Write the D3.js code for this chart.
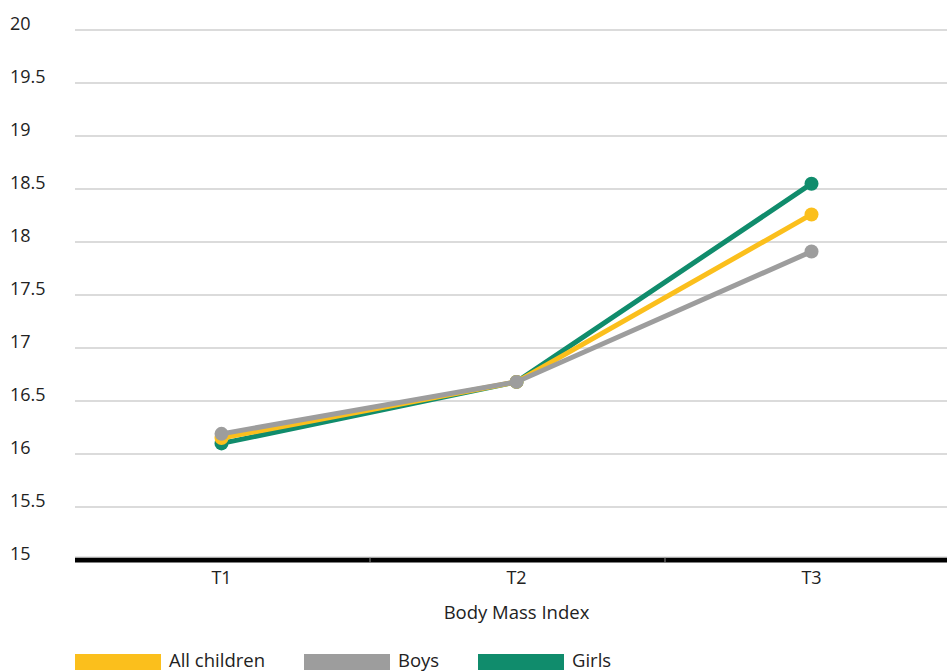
<!DOCTYPE html>
<html><head><meta charset="utf-8">
<script src="https://cdn.jsdelivr.net/npm/d3@7"></script>
<style>body{margin:0;background:#fff;}svg{display:block;font-family:"Open Sans",sans-serif;}</style>
</head><body>
<svg id="c" width="947" height="671"></svg>
<script>
const categories = ["T1","T2","T3"];
const seriesNames = ["All children","Boys","Girls"];
const allChildren = [16.15, 16.68, 18.26];
const boys = [16.19, 16.68, 17.91];
const girls = [16.10, 16.68, 18.55];
const yTicks = [15,15.5,16,16.5,17,17.5,18,18.5,19,19.5,20];
const colors = ["#FBBF1C","#9D9D9D","#108C6C"];
const xTitle = "Body Mass Index";

const svg = d3.select("#c");
const x = d3.scaleBand().domain(categories).range([75,960]);
const y = d3.scaleLinear().domain([15,20]).range([560,30]);

svg.append("g").selectAll("line").data(yTicks.filter(t=>t>15)).join("line")
  .attr("x1",75).attr("x2",947).attr("y1",d=>y(d)).attr("y2",d=>y(d))
  .attr("stroke","#B8B8B8").attr("stroke-width",1.2);
svg.append("g").selectAll("text").data(yTicks).join("text")
  .attr("x",10).attr("y",d=>y(d)-5).attr("dominant-baseline","middle")
  .attr("font-size",18).attr("fill","#222").text(d=>d);

svg.append("line").attr("x1",75).attr("x2",947).attr("y1",y(15)).attr("y2",y(15))
  .attr("stroke","#000").attr("stroke-width",5);
svg.append("line").attr("x1",75).attr("x2",947).attr("y1",y(15)-3).attr("y2",y(15)-3)
  .attr("stroke","#ccc").attr("stroke-width",1);
svg.append("g").selectAll("line").data(categories.slice(1)).join("line")
  .attr("x1",d=>x(d)).attr("x2",d=>x(d)).attr("y1",y(15)-2.5).attr("y2",y(15)+2.5)
  .attr("stroke","#888").attr("stroke-width",1);
svg.append("g").selectAll("text").data(categories).join("text")
  .attr("x",d=>x(d)+x.bandwidth()/2-1).attr("y",579).attr("dominant-baseline","middle")
  .attr("text-anchor","middle").attr("font-size",18).attr("fill","#222").text(d=>d);
svg.append("text").attr("x",x("T2")+x.bandwidth()/2-1).attr("y",614).attr("dominant-baseline","middle")
  .attr("text-anchor","middle").attr("font-size",18.5).attr("fill","#222").text(xTitle);

const series = [
  {name:seriesNames[2], vals:girls, color:colors[2]},
  {name:seriesNames[0], vals:allChildren, color:colors[0]},
  {name:seriesNames[1], vals:boys, color:colors[1]},
];
const line = d3.line().x((d,i)=>x(categories[i])+x.bandwidth()/2-1).y(d=>y(d));
series.forEach(s=>{
  const g = svg.append("g");
  g.append("path").attr("d",line(s.vals)).attr("fill","none").attr("stroke",s.color).attr("stroke-width",5);
  g.selectAll("circle").data(s.vals).join("circle")
    .attr("cx",(d,i)=>x(categories[i])+x.bandwidth()/2-1).attr("cy",d=>y(d)).attr("r",7).attr("fill",s.color);
});

const legX = [75,304,478];
const lg = svg.append("g");
seriesNames.forEach((n,i)=>{
  lg.append("rect").attr("x",legX[i]).attr("y",654).attr("width",86).attr("height",16).attr("fill",colors[i]);
  lg.append("text").attr("x",legX[i]+94).attr("y",662).attr("dominant-baseline","middle")
    .attr("font-size",18.5).attr("fill","#222").text(n);
});
</script>
</body></html>
